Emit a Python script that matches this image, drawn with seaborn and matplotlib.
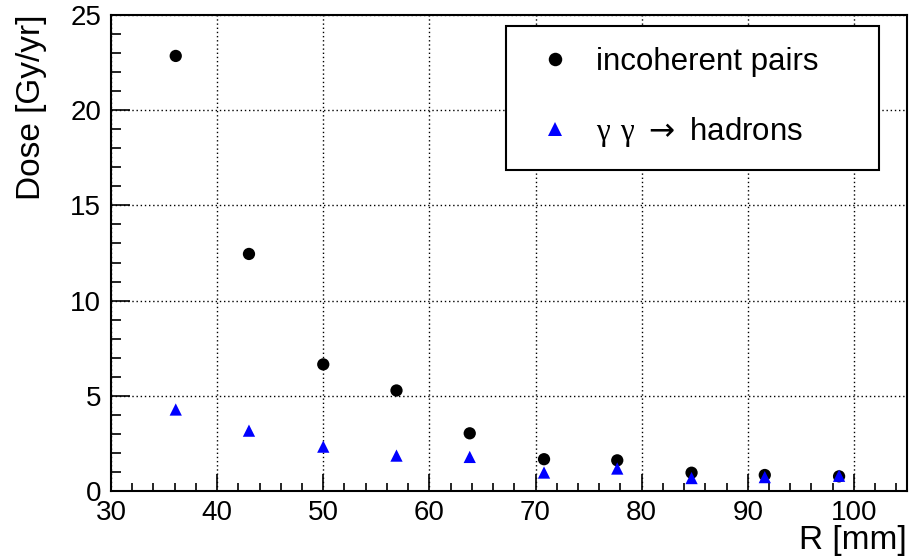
import matplotlib
matplotlib.use("Agg")
import matplotlib.pyplot as plt
import seaborn as sns
import pandas as pd
from matplotlib.ticker import MultipleLocator

# ---- data ----
radius_mm = [36.1, 43.0, 50.0, 56.9, 63.8, 70.8, 77.7, 84.7, 91.6, 98.6]
dose_incoherent_pairs = [22.85, 12.45, 6.65, 5.28, 3.03, 1.67, 1.61, 0.96, 0.84, 0.77]
dose_gg_hadrons = [4.28, 3.17, 2.33, 1.86, 1.79, 0.97, 1.18, 0.68, 0.73, 0.80]
series_names = ["incoherent pairs", r"$\mathrm{\gamma\ \gamma}\;\mathsf{\rightarrow}$ hadrons"]
x_ticks = [30, 40, 50, 60, 70, 80, 90, 100]
y_ticks = [0, 5, 10, 15, 20, 25]

df = pd.concat([
    pd.DataFrame({"R": radius_mm, "dose": dose_incoherent_pairs, "source": series_names[0]}),
    pd.DataFrame({"R": radius_mm, "dose": dose_gg_hadrons, "source": series_names[1]}),
], ignore_index=True)

sns.set_style("white")
plt.rcParams["font.family"] = ["Liberation Sans", "DejaVu Sans"]
plt.rcParams["mathtext.fontset"] = "custom"
plt.rcParams["mathtext.rm"] = "Liberation Serif"
plt.rcParams["mathtext.sf"] = "DejaVu Sans"
plt.rcParams["text.color"] = "black"
plt.rcParams["axes.labelcolor"] = "black"
plt.rcParams["xtick.color"] = "black"
plt.rcParams["ytick.color"] = "black"

fig = plt.figure(figsize=(9.14, 5.58), dpi=100)
ax = fig.add_axes([111 / 914, (558 - 491) / 558, (907 - 111) / 914, (491 - 15) / 558])

sns.scatterplot(
    data=df, x="R", y="dose", hue="source", style="source",
    palette={series_names[0]: "black", series_names[1]: "#0000ff"},
    markers={series_names[0]: "o", series_names[1]: "^"},
    s=78, linewidth=0, ax=ax, legend=True, zorder=3,
)

ax.set_xlim(30, 105)
ax.set_ylim(0, 25)
ax.set_xticks(x_ticks)
ax.set_yticks(y_ticks)
ax.xaxis.set_minor_locator(MultipleLocator(2))
ax.yaxis.set_minor_locator(MultipleLocator(1))

ax.tick_params(axis="x", which="major", direction="in", length=12, width=1.2,
               labelsize=20, pad=6.5, bottom=True, top=False, colors="black")
ax.tick_params(axis="x", which="minor", direction="in", length=5.5, width=1.2,
               bottom=True, top=False)
ax.tick_params(axis="y", which="major", direction="in", length=14, width=1.2,
               labelsize=20, pad=7, left=True, right=False, colors="black")
ax.tick_params(axis="y", which="minor", direction="in", length=7, width=1.2,
               left=True, right=False)

ax.grid(True, which="major", color="black", linestyle=(0, (1, 2)), linewidth=1.0)
ax.set_axisbelow(False)
for sp in ax.spines.values():
    sp.set_color("black")
    sp.set_linewidth(1.5)

ax.set_xlabel("R [mm]", fontsize=24, loc="right", color="black")
ax.set_ylabel("Dose [Gy/yr]", fontsize=24, loc="top", color="black")
ax.xaxis.set_label_coords(1.0, -0.072)
ax.yaxis.set_label_coords(-0.080, 1.0)

handles, labels = ax.get_legend_handles_labels()
leg = ax.legend(
    handles, labels, loc="upper left",
    bbox_to_anchor=(0.496, 0.676, 0.469, 0.301), mode="expand",
    fontsize=22.5, frameon=True, fancybox=False, borderaxespad=0,
    borderpad=0.68, labelspacing=1.2, handlelength=1.8, handletextpad=0.42,
    markerscale=1.1,
)
leg.get_frame().set_edgecolor("black")
leg.get_frame().set_linewidth(1.5)
leg.get_frame().set_alpha(1.0)
leg.set_zorder(5)
for t in leg.get_texts():
    t.set_color("black")

fig.savefig("out.png", dpi=100, facecolor="white")
